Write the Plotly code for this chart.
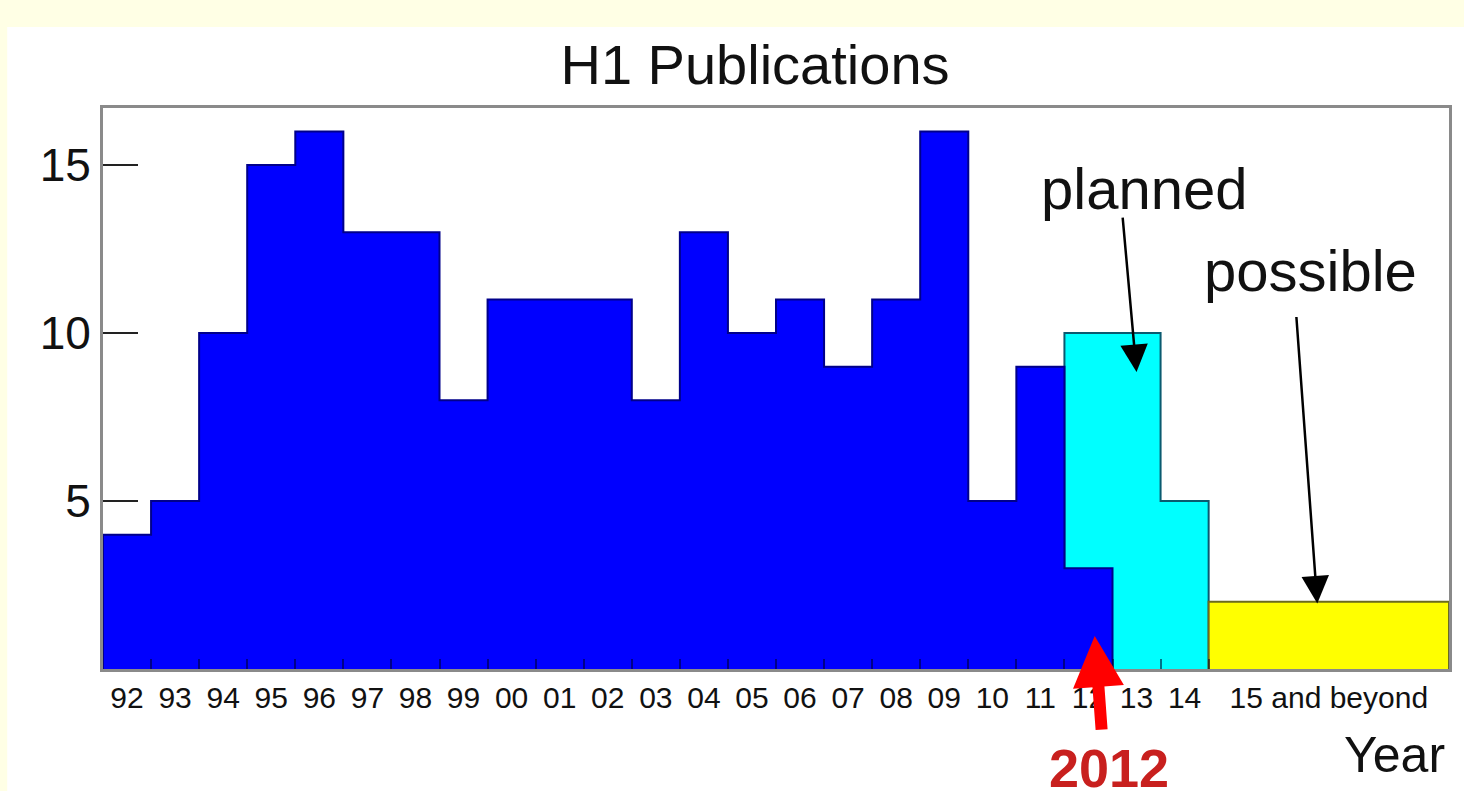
import plotly.graph_objects as go

# ---------------- data ----------------
year_labels = ["92", "93", "94", "95", "96", "97", "98", "99", "00", "01", "02",
               "03", "04", "05", "06", "07", "08", "09", "10", "11", "12", "13", "14"]
beyond_label = "15 and beyond"
published = [4, 5, 10, 15, 16, 13, 13, 8, 11, 11, 11, 8, 13, 10, 11, 9, 11, 16, 5, 9, 3]  # 92 .. 12
planned_years = ["12", "13", "14"]
planned = [10, 10, 5]
possible_value = 2
possible_bins = 5  # width of "15 and beyond" bin in year units

FONT = "Liberation Sans, Arial, sans-serif"


def step_xy(start, values, width=1):
    xs, ys = [], []
    for i, v in enumerate(values):
        xs.append(start + i * width)
        ys.append(v)
    xs.append(start + len(values) * width)
    ys.append(values[-1])
    xs.append(start + len(values) * width)
    ys.append(0)
    return [start] + xs, [0] + ys


fig = go.Figure()

# planned (cyan)
px0 = year_labels.index(planned_years[0])
x, y = step_xy(px0, planned)
fig.add_trace(go.Scatter(x=x, y=y, mode="lines", line_shape="hv", fill="tozeroy",
                         fillcolor="#00FFFF", line=dict(color="#0a5a70", width=2),
                         hoverinfo="skip", showlegend=False))

# published (blue)
x, y = step_xy(0, published)
fig.add_trace(go.Scatter(x=x, y=y, mode="lines", line_shape="hv", fill="tozeroy",
                         fillcolor="#0000FF", line=dict(color="#00008a", width=2),
                         hoverinfo="skip", showlegend=False))

# possible (yellow)
yx0 = len(year_labels)
x, y = step_xy(yx0, [possible_value], width=possible_bins)
fig.add_trace(go.Scatter(x=x, y=y, mode="lines", line_shape="hv", fill="tozeroy",
                         fillcolor="#FFFF00", line=dict(color="#6b6b1e", width=2),
                         hoverinfo="skip", showlegend=False))

n_total = len(year_labels) + possible_bins
tickvals = [i + 0.5 for i in range(len(year_labels))] + [yx0 + possible_bins / 2]
ticktext = year_labels + [beyond_label]

fig.update_xaxes(range=[0, n_total], tickvals=tickvals, ticktext=ticktext,
                 ticks="", tickfont=dict(family=FONT, size=30, color="#111"),
                 ticklabelstandoff=0,
                 showgrid=False, zeroline=False, showline=True, mirror=True,
                 linecolor="#8a8a8a", linewidth=3,
                 minor=dict(tickvals=list(range(1, len(year_labels) + 1)), ticks="inside",
                            ticklen=10, tickwidth=2, tickcolor="rgba(0,0,40,0.55)",
                            showgrid=False))
fig.update_yaxes(range=[0, 16.7], tickvals=[5, 10, 15], ticks="inside", ticklen=35,
                 tickwidth=2, tickcolor="#222",
                 tickfont=dict(family=FONT, size=46, color="#111"),
                 ticklabelstandoff=0,
                 showgrid=False, zeroline=False, showline=True, mirror=True,
                 linecolor="#8a8a8a", linewidth=3)

annotations = [
    dict(text="planned", x=21.65, y=14.29, xref="x", yref="y", showarrow=False,
         font=dict(family=FONT, size=58, color="#111")),
    dict(text="", x=21.5, y=8.84, xref="x", yref="y", showarrow=True,
         ax=-14, ay=-156, arrowhead=2, arrowsize=2.2, arrowwidth=2.5, arrowcolor="#000"),
    dict(text="possible", x=25.11, y=11.85, xref="x", yref="y", showarrow=False,
         font=dict(family=FONT, size=58, color="#111")),
    dict(text="", x=25.26, y=1.95, xref="x", yref="y", showarrow=True,
         ax=-21, ay=-288, arrowhead=2, arrowsize=2.2, arrowwidth=2.5, arrowcolor="#000"),
    dict(text="", x=20.63, y=0.98, xref="x", yref="y", showarrow=True,
         ax=7, ay=95, arrowhead=2, arrowsize=0.85, arrowwidth=12, arrowcolor="#FF0000"),
    dict(text="<b>2012</b>", x=20.92, y=-0.1765, xref="x", yref="paper", showarrow=False,
         yanchor="middle", font=dict(family=FONT, size=54, color="#C8201E")),
    dict(text="Year", x=0.9985, y=-0.153, xref="paper", yref="paper", showarrow=False,
         xanchor="right", yanchor="middle", font=dict(family=FONT, size=50, color="#111")),
]

fig.update_layout(
    width=1464, height=791,
    margin=dict(l=103, r=12, t=108, b=122),
    paper_bgcolor="#FFFFE5", plot_bgcolor="white",
    title=dict(text="H1 Publications", x=755 / 1464, xanchor="center",
               y=1 - 64 / 791, yanchor="middle", yref="container",
               font=dict(family=FONT, size=56, color="#111")),
    annotations=annotations,
    shapes=[dict(type="rect", xref="paper", yref="paper",
                 x0=(7 - 103) / 1349, x1=1.05, y0=-0.4, y1=(669 - 27) / 561,
                 fillcolor="white", line=dict(width=0), layer="below")],
)

fig.write_html(
    "out.html",
    config={"displayModeBar": False},
    post_script="document.body.style.margin='0';document.body.style.padding='0';"
                "document.body.style.background='#FFFFE5';"
                "document.body.style.overflow='hidden';",
)
